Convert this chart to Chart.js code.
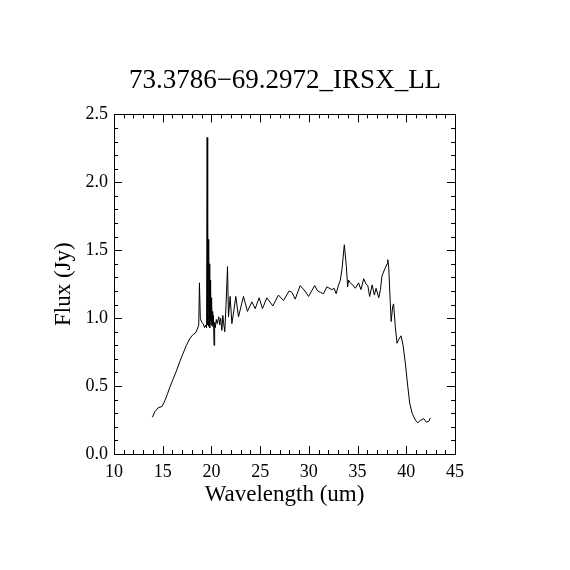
<!DOCTYPE html>
<html>
<head>
<meta charset="utf-8">
<script src="https://cdn.jsdelivr.net/npm/chart.js@4"></script>
<style>
  html, body { margin: 0; padding: 0; background: #fff; }
  #wrap { width: 570px; height: 570px; }
</style>
</head>
<body>
<div id="wrap"><canvas id="spec"></canvas></div>
<script>
// spectrum
var wavelength = [13.94, 14.18, 14.52, 14.93, 15.2, 15.48, 15.72, 16.06, 16.4, 16.75,
  17.09, 17.43, 17.78, 18.12, 18.36, 18.56, 18.7, 18.77, 18.86, 19.0,
  19.15, 19.3, 19.42, 19.5, 19.56, 19.6, 19.63, 19.66, 19.69, 19.72,
  19.75, 19.78, 19.81, 19.84, 19.87, 19.9, 19.93, 19.96, 19.99, 20.02,
  20.05, 20.08, 20.11, 20.15, 20.2, 20.27, 20.33, 20.4, 20.5, 20.6,
  20.75, 20.85, 20.95, 21.07, 21.17, 21.24, 21.37, 21.5, 21.65, 21.75,
  21.92, 22.1, 22.33, 22.5, 22.78, 23.29, 23.7, 24.15, 24.49, 24.9,
  25.24, 25.69, 26.3, 26.88, 27.4, 27.97, 28.26, 28.6, 29.11, 29.6,
  29.97, 30.6, 30.9, 31.2, 31.5, 31.85, 32.37, 32.6, 32.8, 33.05,
  33.23, 33.4, 33.64, 33.85, 33.98, 34.08, 34.25, 34.5, 34.77, 35.1,
  35.35, 35.63, 35.87, 36.05, 36.24, 36.5, 36.72, 36.9, 37.17, 37.35,
  37.5, 37.75, 38.03, 38.1, 38.2, 38.36, 38.45, 38.6, 38.7, 38.87,
  39.05, 39.2, 39.46, 39.67, 39.9, 40.15, 40.35, 40.6, 40.93, 41.17,
  41.5, 41.8, 42.05, 42.3, 42.47];
var flux = [0.27, 0.31, 0.34, 0.35, 0.39, 0.44, 0.49, 0.55, 0.61, 0.68,
  0.74, 0.80, 0.85, 0.88, 0.89, 0.92, 0.95, 1.26, 1.0, 0.97,
  0.96, 0.93, 0.95, 0.93, 2.33, 0.95, 1.66, 0.96, 1.58, 0.94,
  1.47, 0.97, 1.40, 0.93, 1.28, 0.98, 1.22, 0.95, 1.15, 0.97,
  1.10, 0.94, 1.05, 0.96, 1.02, 0.80, 0.97, 0.93, 0.99, 0.96,
  1.01, 0.95, 1.0, 0.91, 1.02, 0.97, 0.90, 1.10, 1.38, 1.01,
  1.16, 0.96, 1.07, 1.16, 1.01, 1.16, 1.05, 1.12, 1.07, 1.15,
  1.07, 1.15, 1.09, 1.17, 1.13, 1.20, 1.19, 1.14, 1.24, 1.20,
  1.16, 1.24, 1.20, 1.19, 1.18, 1.23, 1.21, 1.22, 1.18, 1.245,
  1.28, 1.36, 1.54, 1.38, 1.23, 1.28, 1.26, 1.245, 1.22, 1.26,
  1.21, 1.29, 1.25, 1.24, 1.16, 1.245, 1.17, 1.22, 1.15, 1.21,
  1.31, 1.355, 1.40, 1.43, 1.37, 1.11, 0.975, 1.085, 1.105, 0.94,
  0.815, 0.84, 0.87, 0.80, 0.67, 0.50, 0.375, 0.30, 0.25, 0.23,
  0.25, 0.26, 0.235, 0.24, 0.265];
var xTicks = [10, 15, 20, 25, 30, 35, 40, 45];
var yTicks = [0, 0.5, 1.0, 1.5, 2.0, 2.5];

var points = wavelength.map(function(w, i) { return {x: w, y: flux[i]}; });
var serif = "'Liberation Serif', 'DejaVu Serif', serif";

// box round the plot, with inward ticks on all four sides
var frameTicks = {
  id: 'frameTicks',
  afterDraw: function(chart) {
    var ctx = chart.ctx, a = chart.chartArea;
    var xs = chart.scales.x, ys = chart.scales.y;
    var i, p, len;
    ctx.save();
    ctx.strokeStyle = '#000';
    ctx.lineWidth = 1;
    ctx.strokeRect(Math.round(a.left) + 0.5, Math.round(a.top) + 0.5,
      Math.round(a.right - a.left), Math.round(a.bottom - a.top));
    ctx.beginPath();
    for (i = 0; i <= 35; i++) {
      p = Math.round(xs.getPixelForValue(10 + i)) + 0.5;
      len = (i % 5 === 0) ? 8 : 4;
      ctx.moveTo(p, a.bottom); ctx.lineTo(p, a.bottom - len);
      ctx.moveTo(p, a.top); ctx.lineTo(p, a.top + len);
    }
    for (i = 0; i <= 25; i++) {
      p = Math.round(ys.getPixelForValue(i / 10)) + 0.5;
      len = (i % 5 === 0) ? 8 : 4;
      ctx.moveTo(a.left, p); ctx.lineTo(a.left + len, p);
      ctx.moveTo(a.right, p); ctx.lineTo(a.right - len, p);
    }
    ctx.stroke();
    ctx.restore();
  }
};

new Chart(document.getElementById('spec'), {
  type: 'line',
  data: {
    datasets: [{
      data: points,
      borderColor: '#000',
      borderWidth: 1,
      pointRadius: 0,
      fill: false,
      tension: 0
    }]
  },
  options: {
    responsive: true,
    maintainAspectRatio: false,
    animation: false,
    devicePixelRatio: 1,
    layout: { padding: 0 },
    plugins: {
      legend: { display: false },
      tooltip: { enabled: false },
      title: {
        display: true,
        text: '73.3786\u221269.2972_IRSX_LL',
        color: '#000',
        font: { family: serif, size: 27, weight: 'normal' },
        padding: { top: 65, bottom: 17 }
      }
    },
    scales: {
      x: {
        type: 'linear',
        min: 10,
        max: 45,
        afterBuildTicks: function(s) { s.ticks = xTicks.map(function(v) { return {value: v}; }); },
        afterFit: function(s) { s.height = 116; },
        grid: { display: false, drawTicks: false },
        border: { display: false },
        ticks: {
          color: '#000',
          padding: 7,
          maxRotation: 0,
          font: { family: serif, size: 18 },
          callback: function(v) { return String(v); }
        },
        title: {
          display: true,
          text: 'Wavelength (um)',
          color: '#000',
          font: { family: serif, size: 23 },
          padding: { top: 4, bottom: 61 }
        }
      },
      y: {
        type: 'linear',
        min: 0,
        max: 2.5,
        afterBuildTicks: function(s) { s.ticks = yTicks.map(function(v) { return {value: v}; }); },
        afterFit: function(s) { s.width = 114; },
        grid: { display: false, drawTicks: false },
        border: { display: false },
        ticks: {
          color: '#000',
          padding: 6,
          font: { family: serif, size: 18 },
          callback: function(v) { return Number(v).toFixed(1); }
        },
        title: {
          display: true,
          text: 'Flux (Jy)',
          color: '#000',
          font: { family: serif, size: 23 },
          padding: { top: 50, bottom: 4 }
        }
      },
      // empty right-hand margin so the plot box sits where the reference has it
      yRight: {
        type: 'linear',
        position: 'right',
        min: 0,
        max: 2.5,
        afterFit: function(s) { s.width = 115; },
        grid: { display: false, drawTicks: false },
        border: { display: false },
        ticks: { display: false }
      }
    }
  },
  plugins: [frameTicks]
});
</script>
</body>
</html>
